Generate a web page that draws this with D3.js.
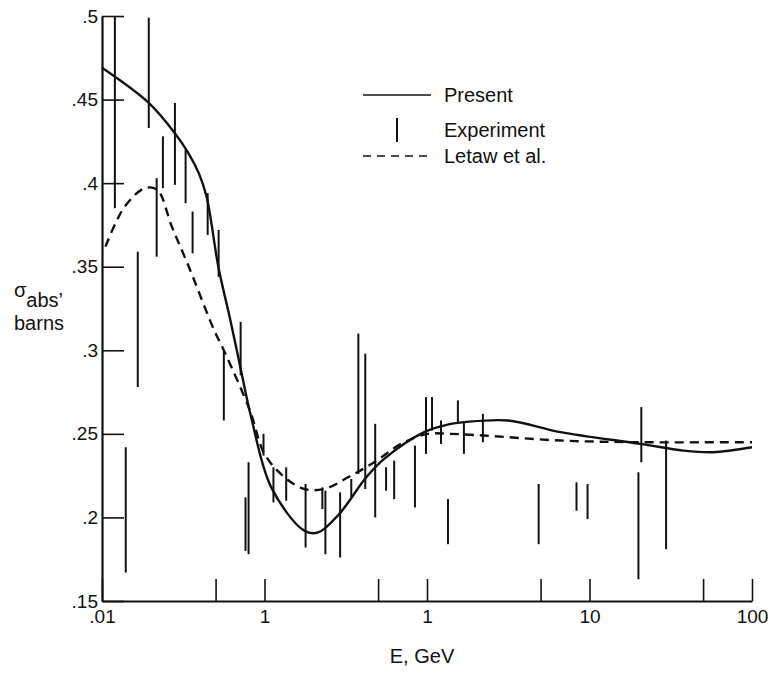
<!DOCTYPE html>
<html>
<head>
<meta charset="utf-8">
<script src="https://cdn.jsdelivr.net/npm/d3@7"></script>
<style>
  body { margin: 0; background: #fff; }
  text { font-family: "Liberation Sans", Arial, Helvetica, sans-serif; fill: #111; }
</style>
</head>
<body>
<script>
// absorption cross section vs energy
var presentE =     [0.01, 0.0194, 0.028, 0.034, 0.0394, 0.044, 0.052, 0.061, 0.0703, 0.0832, 0.11, 0.176, 0.214, 0.288, 0.423, 0.545, 0.96, 1.4, 1.69, 3.14, 6.64, 20.6, 37.8, 57.5, 100];
var presentSigma = [0.469, 0.448, 0.430, 0.418, 0.406, 0.392, 0.350, 0.320, 0.292, 0.259, 0.218, 0.192, 0.191, 0.202, 0.224, 0.235, 0.251, 0.256, 0.257, 0.258, 0.251, 0.244, 0.240, 0.239, 0.242];

var letawE =     [0.0105, 0.0138, 0.0184, 0.0219, 0.0269, 0.0342, 0.049, 0.0562, 0.0813, 0.10, 0.133, 0.176, 0.233, 0.327, 0.473, 0.692, 1.01, 1.40, 2.24, 6.64, 20.6, 81, 100];
var letawSigma = [0.362, 0.386, 0.397, 0.396, 0.374, 0.350, 0.312, 0.300, 0.264, 0.238, 0.224, 0.217, 0.217, 0.224, 0.233, 0.244, 0.250, 0.250, 0.249, 0.246, 0.245, 0.245, 0.245];

var expE =    [0.0120, 0.0140, 0.0166, 0.0194, 0.0217, 0.0237, 0.0281, 0.0327, 0.0361, 0.0447, 0.0522, 0.0562, 0.0713, 0.0764, 0.0798, 0.0986, 0.1135, 0.136, 0.179, 0.227, 0.237, 0.292, 0.342, 0.378, 0.417, 0.480, 0.560, 0.628, 0.843, 0.986, 1.074, 1.219, 1.346, 1.549, 1.687, 2.208, 4.864, 8.318, 9.727, 20.0, 20.84, 29.6];
var expLow =  [0.385, 0.167, 0.278, 0.433, 0.356, 0.397, 0.399, 0.388, 0.358, 0.369, 0.344, 0.258, 0.285, 0.180, 0.178, 0.237, 0.209, 0.210, 0.182, 0.205, 0.178, 0.176, 0.212, 0.226, 0.217, 0.200, 0.216, 0.211, 0.206, 0.238, 0.252, 0.244, 0.184, 0.256, 0.238, 0.245, 0.184, 0.204, 0.199, 0.163, 0.233, 0.181];
var expHigh = [0.500, 0.242, 0.359, 0.499, 0.403, 0.428, 0.448, 0.420, 0.383, 0.394, 0.372, 0.300, 0.317, 0.212, 0.233, 0.250, 0.230, 0.230, 0.220, 0.218, 0.216, 0.215, 0.223, 0.310, 0.298, 0.256, 0.230, 0.234, 0.243, 0.272, 0.272, 0.258, 0.211, 0.270, 0.257, 0.262, 0.220, 0.221, 0.220, 0.227, 0.266, 0.246];

var xTicks = [0.01, 0.05, 0.1, 0.5, 1, 5, 10, 50, 100];
var xTickLabels = [".01", "", "1", "", "1", "", "10", "", "100"];
var yTicks = [0.15, 0.2, 0.25, 0.3, 0.35, 0.4, 0.45, 0.5];
var yTickLabels = [".15", ".2", ".25", ".3", ".35", ".4", ".45", ".5"];

var w = 772;
var h = 673;

var svg = d3.select("body")
    .append("svg")
    .attr("width", w)
    .attr("height", h);

svg.append("rect").attr("width", w).attr("height", h).attr("fill", "#fff");

var x = d3.scaleLog().domain([0.01, 100]).range([102, 752]);
var y = d3.scaleLinear().domain([0.15, 0.5]).range([601, 16]);

// axes, ticks point inward
var xAxis = d3.axisBottom(x)
    .tickValues(xTicks)
    .tickSizeInner(-22)
    .tickSizeOuter(0)
    .tickPadding(9)
    .tickFormat(function (d, i) { return xTickLabels[i]; });

var yAxis = d3.axisLeft(y)
    .tickValues(yTicks)
    .tickSizeInner(-22)
    .tickSizeOuter(0)
    .tickPadding(4)
    .tickFormat(function (d, i) { return yTickLabels[i]; });

var gx = svg.append("g").attr("transform", "translate(0," + y(0.15) + ")").call(xAxis);
var gy = svg.append("g").attr("transform", "translate(" + x(0.01) + ",0)").call(yAxis);

[gx, gy].forEach(function (g) {
    g.select(".domain").attr("stroke", "#111").attr("stroke-width", 2.2);
    g.selectAll(".tick line").attr("stroke", "#111").attr("stroke-width", 1.6);
    g.selectAll(".tick text")
        .attr("font-family", "Liberation Sans, Arial, sans-serif")
        .attr("font-size", 19)
        .attr("fill", "#111");
});

// experiment bars
svg.selectAll("line.exp")
    .data(expE)
    .enter()
    .append("line")
    .attr("class", "exp")
    .attr("x1", function (d) { return x(d); })
    .attr("x2", function (d) { return x(d); })
    .attr("y1", function (d, i) { return y(expLow[i]); })
    .attr("y2", function (d, i) { return y(expHigh[i]); })
    .attr("stroke", "#111")
    .attr("stroke-width", 2);

var line = d3.line()
    .x(function (d) { return x(d[0]); })
    .y(function (d) { return y(d[1]); })
    .curve(d3.curveCatmullRom.alpha(0.5));

svg.append("path")
    .datum(presentE.map(function (d, i) { return [d, presentSigma[i]]; }))
    .attr("d", line)
    .attr("fill", "none")
    .attr("stroke", "#111")
    .attr("stroke-width", 2.4);

svg.append("path")
    .datum(letawE.map(function (d, i) { return [d, letawSigma[i]]; }))
    .attr("d", line)
    .attr("fill", "none")
    .attr("stroke", "#111")
    .attr("stroke-width", 2.4)
    .attr("stroke-dasharray", "9,6");

// legend
var lg = svg.append("g");
lg.append("line").attr("x1", 363).attr("x2", 431).attr("y1", 95).attr("y2", 95)
    .attr("stroke", "#111").attr("stroke-width", 1.6);
lg.append("line").attr("x1", 397).attr("x2", 397).attr("y1", 118).attr("y2", 142)
    .attr("stroke", "#111").attr("stroke-width", 2);
lg.append("line").attr("x1", 363).attr("x2", 431).attr("y1", 156).attr("y2", 156)
    .attr("stroke", "#111").attr("stroke-width", 1.6).attr("stroke-dasharray", "8,6");
lg.append("text").attr("x", 444).attr("y", 102).attr("font-size", 20).text("Present");
lg.append("text").attr("x", 444).attr("y", 137).attr("font-size", 20).text("Experiment");
lg.append("text").attr("x", 444).attr("y", 163).attr("font-size", 20).text("Letaw et al.");

// axis titles
var yl = svg.append("text").attr("x", 14).attr("y", 297).attr("font-size", 20);
yl.append("tspan").text("σ");
yl.append("tspan").attr("dy", 10).text("abs’");
svg.append("text").attr("x", 14).attr("y", 330).attr("font-size", 20).text("barns");

svg.append("text").attr("x", 422).attr("y", 663).attr("text-anchor", "middle")
    .attr("font-size", 20).text("E, GeV");
</script>
</body>
</html>
